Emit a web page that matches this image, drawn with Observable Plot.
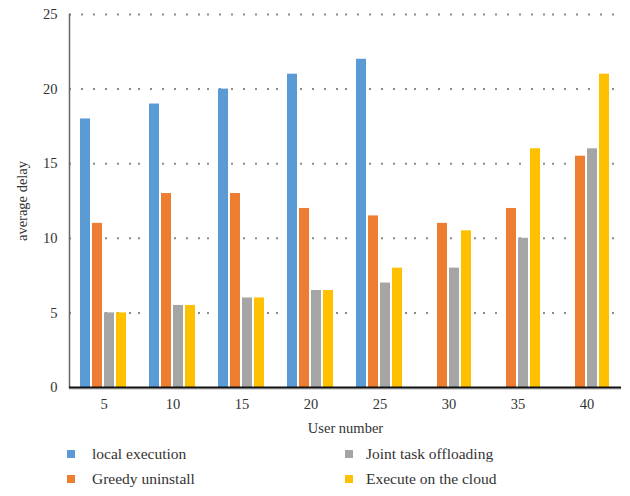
<!DOCTYPE html>
<html><head><meta charset="utf-8">
<script src="https://cdn.jsdelivr.net/npm/d3@7"></script>
<script src="https://cdn.jsdelivr.net/npm/@observablehq/plot@0.6"></script>
<style>
body{margin:0;background:#fff;font-family:"Liberation Serif",serif;}
#legend{position:relative;height:56px;color:#333;font-size:15.5px;font-family:"Liberation Serif",serif;}
.li{position:absolute;display:flex;align-items:center;height:20px;}
.sw{width:8px;height:8px;display:inline-block;}
</style>
</head><body>
<div id="chart"></div>
<div id="legend"></div>
<script>
const userNumbers = [5, 10, 15, 20, 25, 30, 35, 40];
const seriesNames = ["local execution", "Greedy uninstall", "Joint task offloading", "Execute on the cloud"];
const seriesColors = ["#5B9BD5", "#ED7D31", "#A5A5A5", "#FFC000"];
const localExecution = [18, 19, 20, 21, 22, null, null, null];
const greedyUninstall = [11, 13, 13, 12, 11.5, 11, 12, 15.5];
const jointTaskOffloading = [5, 5.5, 6, 6.5, 7, 8, 10, 16];
const executeOnCloud = [5, 5.5, 6, 6.5, 8, 10.5, 16, 21];
const yTicks = [0, 5, 10, 15, 20, 25];

const seriesValues = [localExecution, greedyUninstall, jointTaskOffloading, executeOnCloud];
const data = [];
userNumbers.forEach((u, i) => {
  seriesNames.forEach((s, j) => {
    const v = seriesValues[j][i];
    if (v != null) data.push({user: u, series: s, value: v});
  });
});

const chart = Plot.plot({
  width: 630,
  height: 440,
  marginLeft: 67,
  marginRight: 8,
  marginTop: 14,
  marginBottom: 53,
  style: {fontFamily: "'Liberation Serif', serif", fontSize: "14.5px", color: "#333", background: "#fff"},
  fx: {domain: userNumbers, padding: 0, axis: "bottom", tickSize: 0, tickPadding: 11, label: "User number", labelAnchor: "center", labelOffset: 45},
  x: {domain: seriesNames, paddingInner: 0.15, paddingOuter: 0.74, axis: null},
  y: {domain: [0, 25], ticks: yTicks, tickSize: 0, tickPadding: 12, label: "average delay", labelAnchor: "center", labelOffset: 53, labelArrow: "none"},
  color: {domain: seriesNames, range: seriesColors},
  marks: [
    Plot.ruleY(yTicks.slice(1), {stroke: "#8c8c8c", strokeWidth: 2, strokeDasharray: "2,10"}),
    Plot.barY(data, {fx: "user", x: "series", y: "value", fill: "series"}),
    Plot.frame({anchor: "left", facetAnchor: "left", stroke: "#666", strokeWidth: 1.5}),
    Plot.ruleY([0], {stroke: "#d9d9d9", strokeWidth: 2, dy: 1.5}),
    Plot.ruleY([0], {stroke: "#111", strokeWidth: 2})
  ]
});
document.getElementById("chart").appendChild(chart);

const legend = document.getElementById("legend");
const pos = [[67, 4], [67, 29], [345, 4], [345, 29]];
const order = [0, 1, 2, 3];
order.forEach((j, k) => {
  const d = document.createElement("div");
  d.className = "li";
  d.style.left = pos[k][0] + "px";
  d.style.top = pos[k][1] + "px";
  const sw = document.createElement("span");
  sw.className = "sw";
  sw.style.background = seriesColors[j];
  const t = document.createElement("span");
  t.textContent = seriesNames[j];
  t.style.marginLeft = (k < 2 ? 17 : 13) + "px";
  d.appendChild(sw); d.appendChild(t);
  legend.appendChild(d);
});
</script>
</body></html>
